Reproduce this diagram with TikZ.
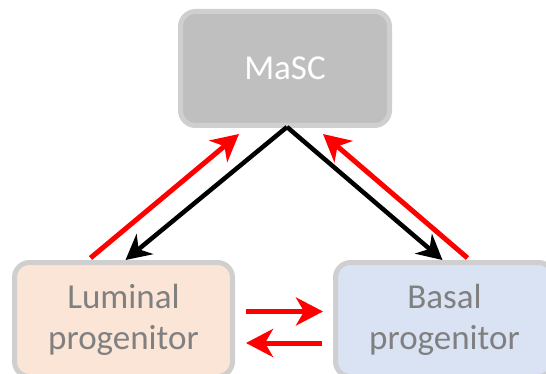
\documentclass[tikz,border=0pt]{standalone}
\usepackage{fontspec}
\setmainfont{Carlito}
\usepackage{tikz}
\usetikzlibrary{positioning, arrows.meta, calc}

\begin{document}
\begin{tikzpicture}[x=1pt, y=-1pt, node distance=321pt]
    \tikzstyle{block} = [rectangle, draw=black!19, line width=5pt, rounded corners=15pt, minimum width=218pt, minimum height=114pt, align=center, font=\fontsize{35}{41}\selectfont]
    \tikzstyle{grayblock} = [block, fill=black!25, text=white, minimum width=209pt]
    \tikzstyle{peachblock} = [block, fill={rgb,255:red,251;green,229;blue,214}, text=black!50]
    \tikzstyle{blueblock} = [block, fill={rgb,255:red,218;green,227;blue,243}, text=black!50]
    \tikzstyle{redarrow} = [line width=5pt, red, -{Stealth[length=27pt, width=28pt, inset=8pt]}]
    \tikzstyle{blackarrow} = [line width=4.5pt, black, -{Stealth[length=25pt, width=26pt, inset=8pt]}]

    \useasboundingbox (0,0) rectangle (546,374);
    \clip (0,0) rectangle (546,374);

    \node [grayblock] (masc) at (285,68.5) {MaSC};
    \node [peachblock] (lum) at (123.5,319.5) {Luminal\\progenitor};
    \node [blueblock, right of=lum] (bas) {Basal\\progenitor};

    % MaSC down to both progenitors
    \draw [blackarrow] ($(masc.south)+(2,-1)$) -- ($(lum.north)+(2,0)$);
    \draw [blackarrow] ($(masc.south)+(2,-1)$) -- ($(bas.north)+(-2,0)$);

    % back to MaSC
    \draw [redarrow] ($(lum.north)+(-33,-2)$) -- ($(masc.south)+(-46,6)$);
    \draw [redarrow] ($(bas.north)+(23,-2)$) -- ($(masc.south)+(38,6)$);

    % between progenitors
    \draw [redarrow] ($(lum.east)+(11,-8)$) -- ($(bas.west)+(-10,-8)$);
    \draw [redarrow] ($(bas.west)+(-11,23.5)$) -- ($(lum.east)+(11,23.5)$);
\end{tikzpicture}
\end{document}
